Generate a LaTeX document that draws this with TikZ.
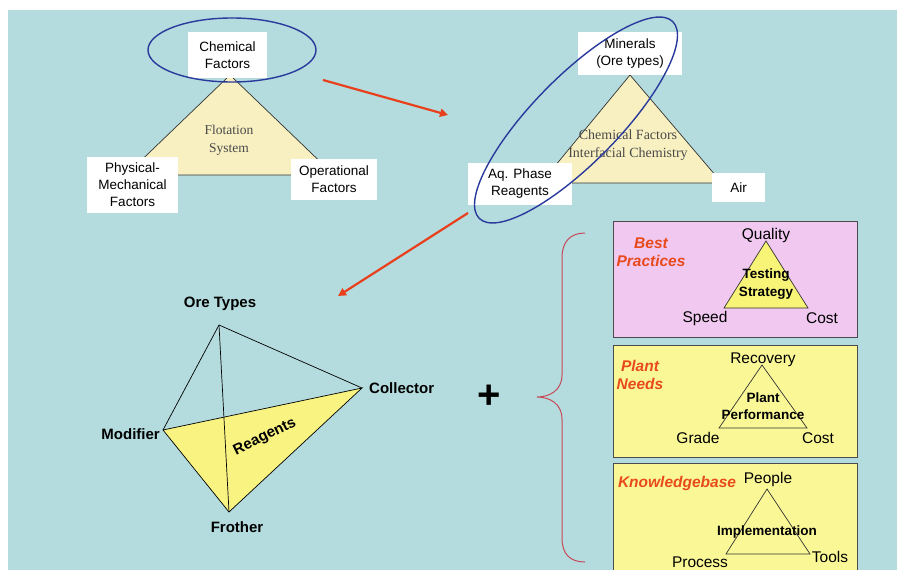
\documentclass[tikz,border=0pt]{standalone}
\usepackage{fontspec}
\setmainfont{Liberation Sans}
\newfontfamily\seriffont{Liberation Serif}
\usetikzlibrary{arrows.meta}
\definecolor{bg}{HTML}{B4DCDE}
\definecolor{cream}{HTML}{F8F0C0}
\definecolor{tetray}{HTML}{F9F382}
\definecolor{pinkc}{HTML}{F0C8F0}
\definecolor{yelc}{HTML}{FAF896}
\definecolor{triy}{HTML}{F8F478}
\definecolor{ellblue}{HTML}{2A3A9C}
\definecolor{arrred}{HTML}{E8401C}
\definecolor{bracered}{HTML}{C84858}
\definecolor{labred}{HTML}{E84A1C}
\definecolor{serifgray}{HTML}{4A4A4A}
\newcommand\fsz[2]{\fontsize{#1}{#2}\selectfont}
\tikzset{
  wbox/.style={fill=white, inner sep=0pt, align=center, font=\fsz{13.5}{17}},
  seriftxt/.style={align=center, text=serifgray, font=\seriffont\fsz{13.5}{18}},
  tri/.style={draw=black!80, line width=0.7pt},
  ell/.style={draw=ellblue, line width=1.4pt},
  redarrow/.style={draw=arrred, line width=2.2pt, -{Triangle[length=8pt,width=8pt]}},
  tetraedge/.style={draw=black, line width=0.7pt},
  tlabel/.style={font=\bfseries\fsz{15}{18}},
  rbox/.style={draw=black!70, line width=0.9pt},
  rlabel/.style={font=\fsz{15.5}{18}},
  rtitle/.style={font=\bfseries\itshape\fsz{15.5}{18.5}, text=labred, align=center},
  rcenter/.style={font=\bfseries\fsz{13.5}{17.5}, align=center},
  bracepath/.style={draw=bracered, line width=1pt},
}
\begin{document}
\begin{tikzpicture}[x=1pt,y=-1pt]
\useasboundingbox (0,0) rectangle (900,570);
\fill[bg] (8,10) rectangle (897,570);

% ---------- top-left triangle ----------
\coordinate (tlA) at (230,75);
\coordinate (tlB) at (126,175);
\coordinate (tlC) at (334,175);
\filldraw[tri, fill=cream] (tlA) -- (tlB) -- (tlC) -- cycle;
\node[seriftxt] (flot) at (229,140) {Flotation\\System};
\node[wbox, minimum width=79pt, minimum height=46pt] (chem) at (227.5,55) {Chemical\\Factors};
\node[wbox, minimum width=91pt, minimum height=56pt] (phys) at (132.5,185) {Physical-\\Mechanical\\Factors};
\node[wbox, minimum width=86pt, minimum height=41pt] (oper) at (334,179.5) {Operational\\Factors};
\draw[ell] (232,50) ellipse [x radius=84pt, y radius=32pt];

% ---------- top-right triangle ----------
\coordinate (trA) at (630,75);
\coordinate (trB) at (541,183);
\coordinate (trC) at (722,183);
\filldraw[tri, fill=cream] (trA) -- (trB) -- (trC) -- cycle;
\node[seriftxt, font=\seriffont\fsz{14}{18}] (interf) at (628,145) {Chemical Factors\\Interfacial Chemistry};
\node[wbox, minimum width=104pt, minimum height=43pt] (min) at (630,53.5) {Minerals\\(Ore types)};
\node[wbox, minimum width=104pt, minimum height=42pt] (aq) at (520,184) {Aq. Phase\\Reagents};
\node[wbox, minimum width=53pt, minimum height=29pt] (air) at (738.5,187.5) {Air};
\draw[ell, rotate around={45.5:(576,120)}] (576,120) ellipse [x radius=138pt, y radius=43pt];

% ---------- arrows ----------
\coordinate (a1s) at (323,80);
\coordinate (a1e) at (448,115);
\coordinate (a2s) at (468,213);
\coordinate (a2e) at (338,296);
\draw[redarrow] (a1s) -- (a1e);
\draw[redarrow] (a2s) -- (a2e);

% ---------- tetrahedron ----------
\coordinate (tO) at (219,325);
\coordinate (tC) at (362,388);
\coordinate (tM) at (163,430);
\coordinate (tF) at (229,512);
\fill[tetray] (tM) -- (tC) -- (tF) -- cycle;
\draw[tetraedge] (tM) -- (tC) -- (tF) -- cycle;
\draw[tetraedge] (tO) -- (tM);
\draw[tetraedge] (tO) -- (tC);
\draw[tetraedge] (tO) -- (tF);
\node[tlabel] (lore) at (220,304) {Ore Types};
\node[tlabel, anchor=west, inner sep=0pt] (lcol) at (369,388) {Collector};
\node[tlabel, anchor=east, inner sep=0pt] (lmod) at (160,434) {Modifier};
\node[tlabel] (lfro) at (237,527) {Frother};
\node[tlabel, rotate=26] (lrea) at (265,437) {Reagents};

% ---------- plus ----------
\node[font=\bfseries\fsz{40}{40}] (plus) at (489,397) {+};

% ---------- brace ----------
\draw[bracepath] (585,233) .. controls (570,233) and (562,242) .. (562,258)
  -- (562,375) .. controls (562,390) and (550,397) .. (537,397)
  .. controls (550,397) and (562,404) .. (562,419)
  -- (562,538) .. controls (562,554) and (570,562) .. (585,562);

% ---------- right boxes ----------
\draw[rbox, fill=pinkc] (613,221) rectangle (857,337);
\draw[rbox, fill=yelc] (613,345) rectangle (857,457);
\draw[rbox, fill=yelc] (613,463) rectangle (857,580);

% box 1
\coordinate (b1A) at (766,241);
\coordinate (b1B) at (724,308);
\coordinate (b1C) at (808,308);
\filldraw[tri, fill=triy] (b1A) -- (b1B) -- (b1C) -- cycle;
\node[rtitle] (best) at (651,252) {Best\\Practices};
\node[rlabel] (qual) at (766,235) {Quality};
\node[rcenter] (test) at (766,284) {Testing\\Strategy};
\node[rlabel] (speed) at (705,318) {Speed};
\node[rlabel] (cost1) at (822,318) {Cost};

% box 2
\coordinate (b2A) at (762,365);
\coordinate (b2B) at (719,428);
\coordinate (b2C) at (807,428);
\draw[tri] (b2A) -- (b2B) -- (b2C) -- cycle;
\node[rtitle] (plantn) at (640,375) {Plant\\Needs};
\node[rlabel] (recov) at (763,360) {Recovery};
\node[rcenter] (plantp) at (763,406) {Plant\\Performance};
\node[rlabel] (grade) at (698,438) {Grade};
\node[rlabel] (cost2) at (818,438) {Cost};

% box 3
\coordinate (b3A) at (767,489);
\coordinate (b3B) at (726,554);
\coordinate (b3C) at (810,554);
\draw[tri] (b3A) -- (b3B) -- (b3C) -- cycle;
\node[rtitle] (know) at (677,483) {Knowledgebase};
\node[rlabel] (people) at (768,479) {People};
\node[rcenter] (impl) at (767,532) {Implementation};
\node[rlabel] (process) at (700,562) {Process};
\node[rlabel] (tools) at (830,557) {Tools};
\end{tikzpicture}
\end{document}
